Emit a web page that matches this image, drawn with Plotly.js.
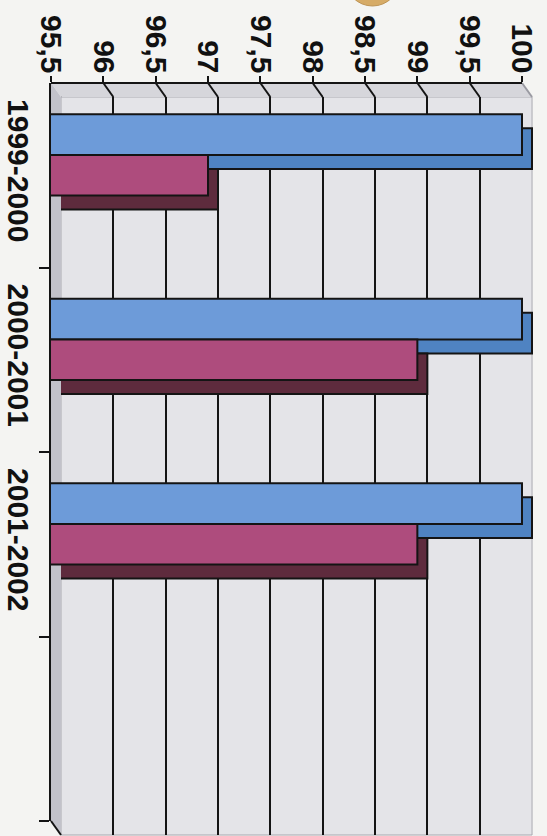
<!DOCTYPE html>
<html>
<head>
<meta charset="utf-8">
<script src="https://cdn.plot.ly/plotly-3.0.1.min.js"></script>
<style>
html,body{margin:0;padding:0;background:#f4f4f2;}
#chart{width:547px;height:836px;}
</style>
</head>
<body>
<div id="chart"></div>
<script>
// ---- data ----
const categories = ["1999-2000", "2000-2001", "2001-2002"];
const seriesBlue = [100, 100, 100];
const seriesMagenta = [97, 99, 99];
const valueTicks = [95.5, 96, 96.5, 97, 97.5, 98, 98.5, 99, 99.5, 100];
const valueTickLabels = ["95,5", "96", "96,5", "97", "97,5", "98", "98,5", "99", "99,5", "100"];
const gridValues = [96, 96.5, 97, 97.5, 98, 98.5, 99, 99.5];

// ---- layout geometry (pixels) ----
const W = 547, H = 836;
const FX0 = 51, FX1 = 532.5, FY0 = 83, FY1 = 821;   // front plane
const DX = 10, DY = 14;                             // 3D depth offset
const BX0 = FX0 + DX, BX1 = FX1 + DX, BY0 = FY0 + DY, BY1 = FY1 + DY; // back plane
const px = x => x / W;
const py = y => 1 - y / H;

const idx = categories.map((c, i) => i);

const font = {family: "Liberation Sans, Arial, sans-serif", size: 30, color: "#111", weight: "bold"};

const barLine = {color: "#141414", width: 2};
const bW = 0.22;

const traces = [
  // depth (back plane) faces
  {type: "bar", orientation: "h", x: seriesBlue, y: idx, xaxis: "x", yaxis: "y",
   offset: -0.33, width: bW, marker: {color: "#4f83c2", line: barLine}},
  {type: "bar", orientation: "h", x: seriesMagenta, y: idx, xaxis: "x", yaxis: "y",
   offset: -0.11, width: bW, marker: {color: "#5e2b3d", line: barLine}},
  // front faces
  {type: "bar", orientation: "h", x: seriesBlue, y: idx, xaxis: "x2", yaxis: "y2",
   offset: -0.33, width: bW, marker: {color: "#6d9bd9", line: barLine}},
  {type: "bar", orientation: "h", x: seriesMagenta, y: idx, xaxis: "x2", yaxis: "y2",
   offset: -0.11, width: bW, marker: {color: "#ae4c7d", line: barLine}}
];

const shapes = [];
// back wall
shapes.push({type: "rect", xref: "paper", yref: "paper", layer: "below",
  x0: px(BX0), x1: px(BX0 + (BX1 - BX0) * 4.5 / 4.6), y0: py(BY1), y1: py(BY0),
  fillcolor: "#e4e4e8", line: {color: "#a9a9b0", width: 1}});
// top strip (floor)
const xr = FX0 + (FX1 - FX0) * 4.5 / 4.6;
shapes.push({type: "path", xref: "paper", yref: "paper", layer: "below",
  path: `M${px(FX0)},${py(FY0)} L${px(xr)},${py(FY0)} L${px(xr + DX)},${py(BY0)} L${px(BX0)},${py(BY0)} Z`,
  fillcolor: "#d6d6db", line: {width: 0}});
// left wall
shapes.push({type: "path", xref: "paper", yref: "paper", layer: "below",
  path: `M${px(FX0)},${py(FY0)} L${px(BX0)},${py(BY0)} L${px(BX0)},${py(BY1)} L${px(FX0)},${py(FY1)} Z`,
  fillcolor: "#c2c2ca", line: {width: 0}});
// floor diagonals from each tick to its back grid line
valueTicks.forEach(v => {
  const edge = (v === valueTicks[0] || v === valueTicks[valueTicks.length - 1]);
  shapes.push({type: "line", xref: "x", yref: "paper", layer: "below",
    xsizemode: "pixel", xanchor: v, x0: -DX, x1: 0,
    ysizemode: "pixel", yanchor: py(BY0), y0: DY, y1: 0,
    line: {color: edge ? "#9a9aa2" : "#141414", width: 2}});
});
// top value axis line (front)
shapes.push({type: "line", xref: "x2", yref: "paper",
  x0: valueTicks[0], x1: valueTicks[valueTicks.length - 1], y0: py(FY0), y1: py(FY0),
  line: {color: "#141414", width: 2}});
// bottom edge of left wall
shapes.push({type: "line", xref: "paper", yref: "paper",
  x0: px(FX0), y0: py(FY1), x1: px(BX0), y1: py(BY1), line: {color: "#141414", width: 2}});
// partial logo at top edge
shapes.push({type: "circle", xref: "paper", yref: "paper", layer: "below",
  x0: px(345), x1: px(400), y0: py(6), y1: py(-50),
  fillcolor: "#cf9a45", line: {color: "#b07a2a", width: 1}, opacity: 0.8});

const layout = {
  width: W, height: H,
  margin: {l: 0, r: 0, t: 0, b: 0},
  paper_bgcolor: "#f4f4f2",
  plot_bgcolor: "rgba(0,0,0,0)",
  showlegend: false,
  hovermode: false,
  barmode: "overlay",
  // back plane
  xaxis: {domain: [px(BX0), px(BX1)], range: [95.5, 100.1], anchor: "y",
    tickmode: "array", tickvals: gridValues, showticklabels: false, ticks: "",
    showgrid: true, gridcolor: "#141414", gridwidth: 2, zeroline: false, showline: false},
  yaxis: {domain: [py(BY1), py(BY0)], range: [3.5, -0.5], anchor: "x",
    showticklabels: false, showgrid: false, zeroline: false, showline: false, ticks: ""},
  // front plane
  xaxis2: {domain: [px(FX0), px(FX1)], range: [95.5, 100.1], anchor: "y2", side: "top",
    tickmode: "array", tickvals: valueTicks, ticktext: valueTickLabels, tickangle: 90,
    ticks: "outside", ticklen: 6, tickwidth: 2, tickcolor: "#141414",
    tickfont: font, showgrid: false, zeroline: false, showline: false, ticklabelstandoff: -8},
  yaxis2: {domain: [py(FY1), py(FY0)], range: [3.5, -0.5], anchor: "x2", side: "left",
    tickmode: "array", tickvals: idx, ticktext: categories, tickangle: 90,
    ticks: "outside", ticklen: 0, tickfont: font, ticklabelstandoff: 5,
    minor: {tickmode: "array", tickvals: [0.5, 1.5, 2.5, 3.5], ticks: "outside", ticklen: 10,
            tickwidth: 2, tickcolor: "#141414", showgrid: false},
    showgrid: false, zeroline: false, showline: true, linecolor: "#141414", linewidth: 2},
  shapes: shapes
};

Plotly.newPlot("chart", traces, layout, {staticPlot: true, displayModeBar: false});
</script>
</body>
</html>
